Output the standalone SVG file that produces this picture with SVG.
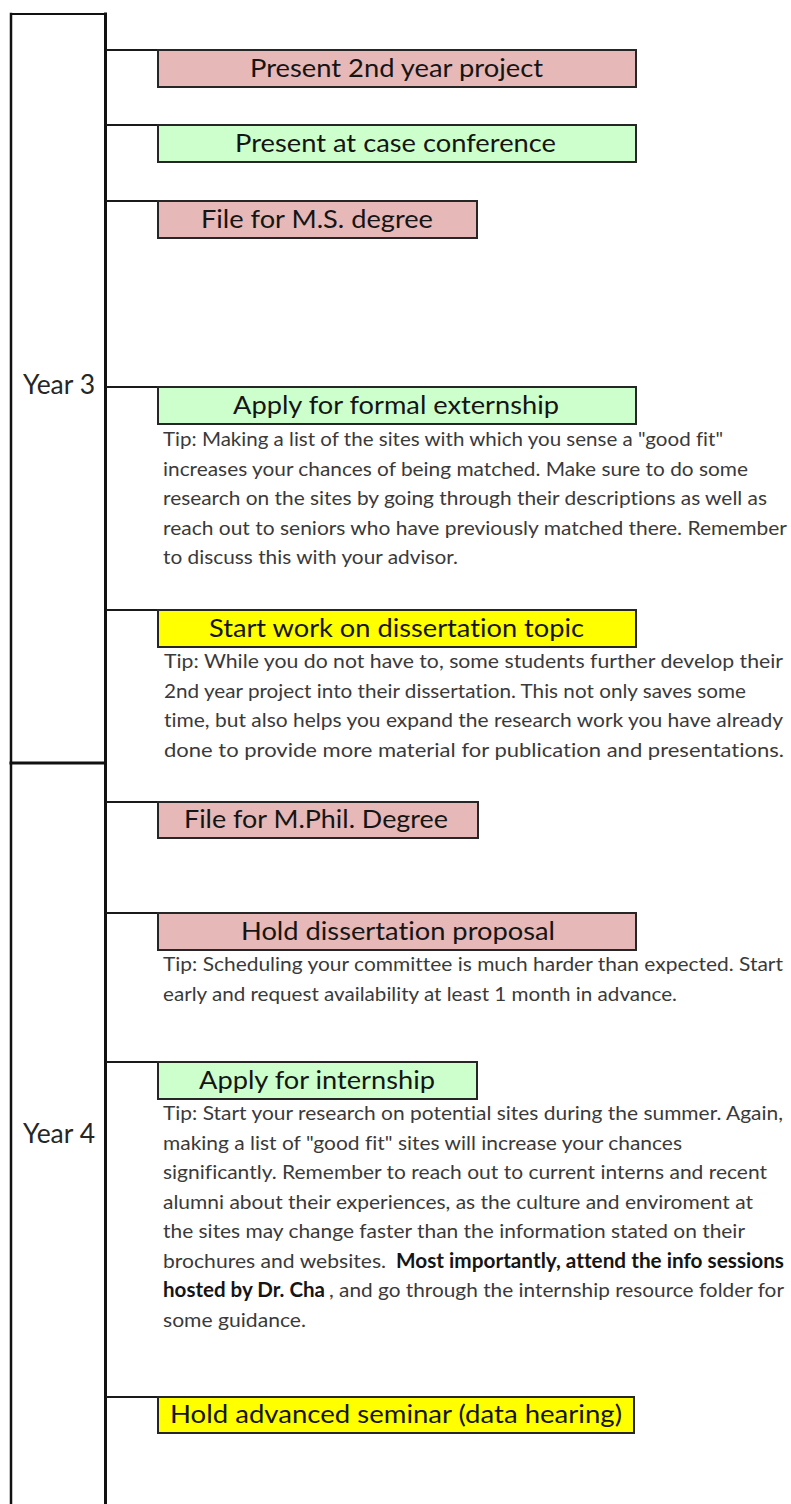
<svg xmlns="http://www.w3.org/2000/svg" width="791" height="1504" viewBox="0 0 791 1504">
<style>
.bg{fill:#ffffff}
.frame{stroke:#111;fill:none;stroke-linecap:square}
.conn{stroke:#1a1a1a;stroke-width:2;fill:none}
.box{stroke:#262626;stroke-width:2}
.pink{fill:#E6B8B7}
.green{fill:#CCFFCC}
.yellow{fill:#FFFF00}
text{font-variant-ligatures:none;font-feature-settings:"liga" 0,"clig" 0}
.lbl{font-family:Lato,"Liberation Sans",sans-serif;font-size:25px;fill:#151515;text-anchor:start}
.year{font-family:Lato,"Liberation Sans",sans-serif;font-size:26px;fill:#262626}
.tip{font-family:Lato,"Liberation Sans",sans-serif;font-size:20px;fill:#3a3a3a}
.b{font-weight:bold;fill:#151515}
</style>
<rect class="bg" x="0" y="0" width="791" height="1504"/>
<g id="timeline">
<line class="frame" x1="11" y1="14" x2="11" y2="1504" stroke-width="2.5"/>
<line class="frame" x1="105.5" y1="14" x2="105.5" y2="1504" stroke-width="3"/>
<line class="frame" x1="11" y1="14" x2="105" y2="14" stroke-width="2"/>
<line class="frame" x1="11" y1="763" x2="105" y2="763" stroke-width="3"/>
</g>
<g id="year3"><text class="year" x="23" y="394" textLength="72" lengthAdjust="spacingAndGlyphs">Year 3</text></g>
<g id="year4"><text class="year" x="23" y="1143" textLength="72" lengthAdjust="spacingAndGlyphs">Year 4</text></g>
<g id="connectors">
<line class="conn" x1="106" y1="50" x2="158" y2="50"/>
<line class="conn" x1="106" y1="125" x2="158" y2="125"/>
<line class="conn" x1="106" y1="201" x2="158" y2="201"/>
<line class="conn" x1="106" y1="387" x2="158" y2="387"/>
<line class="conn" x1="106" y1="610" x2="158" y2="610"/>
<line class="conn" x1="106" y1="802" x2="158" y2="802"/>
<line class="conn" x1="106" y1="913" x2="158" y2="913"/>
<line class="conn" x1="106" y1="1062" x2="158" y2="1062"/>
<line class="conn" x1="106" y1="1397" x2="158" y2="1397"/>
</g>
<g id="n1"><rect class="box pink" x="158" y="50" width="478" height="37"/><text class="lbl" x="250" y="77" textLength="293" lengthAdjust="spacingAndGlyphs">Present 2nd year project</text></g>
<g id="n2"><rect class="box green" x="158" y="125" width="478" height="37"/><text class="lbl" x="235" y="152" textLength="321" lengthAdjust="spacingAndGlyphs">Present at case conference</text></g>
<g id="n3"><rect class="box pink" x="158" y="201" width="319" height="37"/><text class="lbl" x="201" y="228" textLength="232" lengthAdjust="spacingAndGlyphs">File for M.S. degree</text></g>
<g id="n4"><rect class="box green" x="158" y="387" width="478" height="37"/><text class="lbl" x="233" y="414" textLength="326" lengthAdjust="spacingAndGlyphs">Apply for formal externship</text>
<text class="tip" x="163" y="446" textLength="560" lengthAdjust="spacingAndGlyphs">Tip: Making a list of the sites with which you sense a "good fit"</text>
<text class="tip" x="163" y="475.5" textLength="585" lengthAdjust="spacingAndGlyphs">increases your chances of being matched. Make sure to do some</text>
<text class="tip" x="163" y="505" textLength="604" lengthAdjust="spacingAndGlyphs">research on the sites by going through their descriptions as well as</text>
<text class="tip" x="163" y="534.5" textLength="624" lengthAdjust="spacingAndGlyphs">reach out to seniors who have previously matched there. Remember</text>
<text class="tip" x="163" y="564" textLength="295" lengthAdjust="spacingAndGlyphs">to discuss this with your advisor.</text></g>
<g id="n5"><rect class="box yellow" x="158" y="610" width="478" height="37"/><text class="lbl" x="209" y="637" textLength="375" lengthAdjust="spacingAndGlyphs">Start work on dissertation topic</text>
<text class="tip" x="164" y="668" textLength="619" lengthAdjust="spacingAndGlyphs">Tip: While you do not have to, some students further develop their</text>
<text class="tip" x="164" y="697.5" textLength="582" lengthAdjust="spacingAndGlyphs">2nd year project into their dissertation. This not only saves some</text>
<text class="tip" x="164" y="727" textLength="619" lengthAdjust="spacingAndGlyphs">time, but also helps you expand the research work you have already</text>
<text class="tip" x="164" y="756.5" textLength="620" lengthAdjust="spacingAndGlyphs">done to provide more material for publication and presentations.</text></g>
<g id="n6"><rect class="box pink" x="158" y="802" width="320" height="36"/><text class="lbl" x="184" y="828" textLength="264" lengthAdjust="spacingAndGlyphs">File for M.Phil. Degree</text></g>
<g id="n7"><rect class="box pink" x="158" y="913" width="478" height="37"/><text class="lbl" x="241" y="940" textLength="314" lengthAdjust="spacingAndGlyphs">Hold dissertation proposal</text>
<text class="tip" x="163" y="971" textLength="620" lengthAdjust="spacingAndGlyphs">Tip: Scheduling your committee is much harder than expected. Start</text>
<text class="tip" x="163" y="1000.5" textLength="514" lengthAdjust="spacingAndGlyphs">early and request availability at least 1 month in advance.</text></g>
<g id="n8"><rect class="box green" x="158" y="1062" width="319" height="37"/><text class="lbl" x="199" y="1089" textLength="236" lengthAdjust="spacingAndGlyphs">Apply for internship</text>
<text class="tip" x="163" y="1120" textLength="620" lengthAdjust="spacingAndGlyphs">Tip: Start your research on potential sites during the summer. Again,</text>
<text class="tip" x="163" y="1149.5" textLength="519" lengthAdjust="spacingAndGlyphs">making a list of "good fit" sites will increase your chances</text>
<text class="tip" x="163" y="1179" textLength="604" lengthAdjust="spacingAndGlyphs">significantly. Remember to reach out to current interns and recent</text>
<text class="tip" x="163" y="1208.5" textLength="590" lengthAdjust="spacingAndGlyphs">alumni about their experiences, as the culture and enviroment at</text>
<text class="tip" x="163" y="1238" textLength="582" lengthAdjust="spacingAndGlyphs">the sites may change faster than the information stated on their</text>
<text class="tip" x="163" y="1267.5" textLength="223" lengthAdjust="spacingAndGlyphs">brochures and websites.</text>
<text class="tip b" x="396" y="1267.5" textLength="388" lengthAdjust="spacingAndGlyphs">Most importantly, attend the info sessions</text>
<text class="tip b" x="163" y="1297" textLength="162" lengthAdjust="spacingAndGlyphs">hosted by Dr. Cha</text>
<text class="tip" x="329" y="1297" textLength="455" lengthAdjust="spacingAndGlyphs">, and go through the internship resource folder for</text>
<text class="tip" x="163" y="1326.5" textLength="143" lengthAdjust="spacingAndGlyphs">some guidance.</text></g>
<g id="n9"><rect class="box yellow" x="158" y="1397" width="476" height="36"/><text class="lbl" x="170" y="1423" textLength="452" lengthAdjust="spacingAndGlyphs">Hold advanced seminar (data hearing)</text></g>
</svg>
